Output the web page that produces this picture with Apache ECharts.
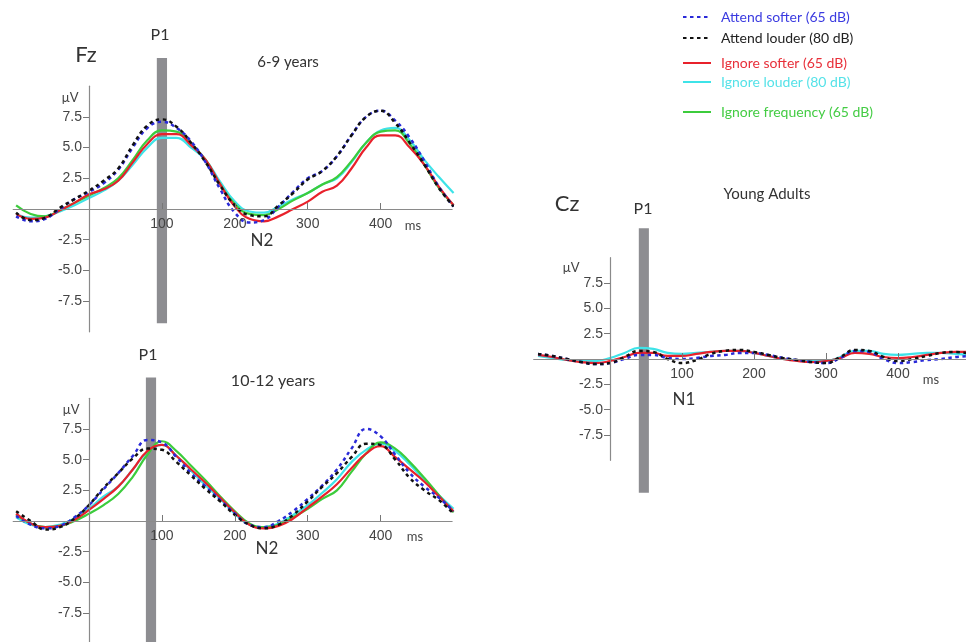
<!DOCTYPE html>
<html>
<head>
<meta charset="utf-8">
<script src="https://cdn.jsdelivr.net/npm/echarts@6/dist/echarts.min.js"></script>
<style>
  html,body{margin:0;padding:0;background:#fff;}
  #chart{width:966px;height:642px;}
</style>
</head>
<body>
<div id="chart"></div>
<script>
// sample times (ms)
var times = [-100,-80,-60,-40,-20,0,20,40,60,80,100,120,140,160,180,200,220,240,260,280,300,320,340,360,380,400,420,440,460,480,500];

// Fz, 6-9 years
var kidsAttSoft  = [-0.6,-1.0,-0.8,0.0,0.8,1.4,2.1,3.2,5.0,6.6,7.1,6.6,5.5,3.8,1.6,-0.3,-1.1,-0.9,0.2,1.4,2.5,3.1,4.3,6.0,7.5,8.0,7.2,5.8,3.9,1.8,0.2];
var kidsAttLoud  = [-0.3,-0.9,-0.7,0.1,0.8,1.5,2.3,3.3,5.2,6.8,7.3,6.7,5.4,3.8,1.9,0.3,-0.5,-0.6,0.3,1.3,2.4,3.1,4.3,6.0,7.5,8.0,7.0,5.4,3.6,1.7,0.2];
var kidsIgnSoft  = [-0.4,-0.8,-0.7,-0.1,0.5,1.2,1.6,2.3,3.8,5.3,6.1,6.1,5.2,4.0,2.0,0.2,-0.8,-1.0,-0.6,0.0,0.6,1.4,1.9,3.3,5.0,6.0,6.0,5.0,3.6,1.8,0.3];
var kidsIgnLoud  = [-0.4,-0.7,-0.6,-0.2,0.3,0.9,1.5,2.3,3.6,5.0,5.8,5.8,5.0,4.0,2.2,0.6,-0.2,-0.3,0.2,0.8,1.3,2.0,2.5,3.8,5.4,6.4,6.6,5.6,4.0,2.6,1.3];
var kidsIgnFreq  = [0.3,-0.4,-0.6,-0.1,0.5,1.1,1.7,2.5,4.0,5.6,6.4,6.3,5.3,4.0,2.0,0.4,-0.4,-0.5,0.0,0.7,1.3,2.0,2.6,3.9,5.4,6.3,6.4,5.3,3.6,1.7,0.3];

// Fz, 10-12 years
var preAttSoft = [0.4,-0.3,-0.6,-0.4,0.3,1.3,2.6,3.9,5.3,6.6,6.4,5.2,3.9,2.8,1.7,0.6,-0.3,-0.5,0.0,0.8,1.8,2.9,4.2,5.9,7.5,6.9,5.4,3.9,2.8,1.9,0.8];
var preAttLoud = [0.8,0.0,-0.7,-0.5,0.2,1.3,2.7,3.9,5.1,5.9,5.8,4.8,3.7,2.6,1.6,0.5,-0.3,-0.6,-0.3,0.5,1.6,2.8,3.9,5.2,6.3,6.2,5.0,3.5,2.5,1.7,0.6];
var preIgnSoft = [0.6,-0.2,-0.5,-0.4,0.1,0.9,1.8,2.8,4.2,5.7,6.2,5.3,4.2,3.1,1.9,0.7,-0.3,-0.6,-0.4,0.2,1.1,2.0,3.0,4.3,5.5,6.1,5.2,4.2,3.2,2.0,0.8];
var preIgnLoud = [0.3,-0.3,-0.5,-0.3,0.2,1.0,2.0,2.8,4.2,5.6,6.2,5.3,4.1,2.9,1.8,0.6,-0.3,-0.5,-0.2,0.5,1.3,2.3,3.4,4.8,5.8,6.3,5.7,4.6,3.3,2.1,1.0];
var preIgnFreq = [0.5,-0.2,-0.5,-0.4,0.0,0.6,1.3,2.2,3.6,5.4,6.5,5.7,4.5,3.3,2.0,0.8,-0.2,-0.5,-0.3,0.3,1.0,1.8,2.5,4.0,5.5,6.4,5.9,4.8,3.5,2.1,0.7];

// Cz, young adults
var adAttSoft = [0.5,0.3,0.0,-0.3,-0.5,-0.4,0.0,0.4,0.4,0.1,0.0,0.1,0.3,0.4,0.6,0.6,0.4,0.1,-0.1,-0.3,-0.4,0.1,0.8,0.7,0.0,-0.4,-0.3,-0.1,0.0,0.2,0.3];
var adAttLoud = [0.5,0.3,0.0,-0.3,-0.5,-0.4,0.2,0.8,0.7,0.0,-0.4,-0.1,0.5,0.8,0.9,0.7,0.4,0.1,-0.1,-0.3,-0.4,0.2,0.9,0.8,0.2,-0.2,0.0,0.3,0.6,0.7,0.5];
var adIgnSoft = [0.4,0.2,-0.1,-0.3,-0.4,-0.2,0.2,0.6,0.6,0.3,0.3,0.5,0.7,0.8,0.8,0.6,0.3,0.0,-0.2,-0.3,-0.2,0.1,0.6,0.5,0.2,0.1,0.2,0.4,0.6,0.7,0.7];
var adIgnLoud = [0.3,0.1,-0.1,-0.2,-0.2,0.1,0.6,1.1,1.0,0.6,0.5,0.6,0.7,0.8,0.8,0.6,0.3,0.0,-0.1,-0.2,-0.2,0.2,0.8,0.8,0.5,0.4,0.5,0.6,0.6,0.5,0.4];

// P1 bars: [from ms, to ms, top µV, bottom µV]
var kidsP1 = [[93, 107, 12.3, -9.3]];
var preP1 = [[78, 92, 11.7, -10.6]];
var adP1 = [[40, 54, 12.9, -13.2]];

var yTicks = [-7.5, -5, -2.5, 2.5, 5, 7.5];
var xTicks = [100, 200, 300, 400];
var yRange = [-10, 10];
var xRangeKids = [-104, 498];
var xRangeAdults = [-106, 495];

var names = ['Attend softer (65 dB)', 'Attend louder (80 dB)', 'Ignore softer (65 dB)', 'Ignore louder (80 dB)', 'Ignore frequency (65 dB)'];
var colors = ['#2a2ad8', '#111111', '#e8212b', '#3ee3e8', '#3ccc3c'];
var legendColors = ['#3b3be0', '#222222', '#e8303a', '#55e2e8', '#44cc44'];
var legendRows = [16, 37, 62, 81, 111];

var grids = [
    {left: 13.2, top: 86.2, width: 438.9, height: 245.6},
    {left: 13.2, top: 398.3, width: 438.9, height: 245.4},
    {left: 533.7, top: 257.7, width: 432.7, height: 202.6}
];

function pairs(vals) {
    var out = [];
    for (var i = 0; i < times.length; i++) out.push([times[i], vals[i]]);
    return out;
}

function lineSeries(k, vals, idx) {
    return {
        name: names[k], type: 'line', xAxisIndex: idx, yAxisIndex: idx,
        data: pairs(vals), smooth: 0.45, showSymbol: false, symbol: 'none',
        z: 3, silent: true, animation: false,
        itemStyle: {color: colors[k]},
        lineStyle: {color: colors[k], width: k < 2 ? 2.5 : 2.2, type: k < 2 ? [3.5, 3.5] : 'solid'}
    };
}

function barSeries(d, idx) {
    return {
        type: 'custom', xAxisIndex: idx, yAxisIndex: idx, clip: false, z: 1, silent: true,
        data: d, animation: false,
        renderItem: function (params, api) {
            var p0 = api.coord([api.value(0), api.value(2)]);
            var p1 = api.coord([api.value(1), api.value(3)]);
            return {type: 'rect', shape: {x: p0[0], y: p0[1], width: p1[0] - p0[0], height: p1[1] - p0[1]},
                    style: {fill: '#8d8d91'}};
        }
    };
}

var font = '"Liberation Sans Narrow", "Liberation Sans", sans-serif';
// x axis sits on µV = 0, y axis on 0 ms: shift them from the grid edge
function xAx(idx, range) {
    var g = grids[idx];
    return {
        type: 'value', gridIndex: idx, min: range[0], max: range[1], position: 'bottom', z: 5,
        offset: -g.height * (0 - yRange[0]) / (yRange[1] - yRange[0]),
        splitLine: {show: false},
        axisLine: {onZero: false, lineStyle: {color: '#8a8a8a', width: 1.2}},
        axisTick: {inside: true, length: 6, customValues: xTicks, lineStyle: {color: '#777'}},
        axisLabel: {customValues: xTicks, margin: 8, color: '#444', fontSize: 14, fontFamily: font}
    };
}
function yAx(idx, range) {
    var g = grids[idx];
    return {
        type: 'value', gridIndex: idx, min: yRange[0], max: yRange[1], position: 'left', z: 5,
        offset: -g.width * (0 - range[0]) / (range[1] - range[0]),
        splitLine: {show: false},
        axisLine: {onZero: false, lineStyle: {color: '#8a8a8a', width: 1.2}},
        axisTick: {length: 6, customValues: yTicks, lineStyle: {color: '#777'}},
        axisLabel: {customValues: yTicks, margin: 7, color: '#444', fontSize: 14, fontFamily: font,
            formatter: function (v) { return v.toFixed(1); }}
    };
}

function txt(s, x, y, size, align, color) {
    return {type: 'text', x: x, y: y, silent: true,
        style: {text: s, fontSize: size, fontFamily: 'Lato', fill: color || '#333', align: align || 'center', verticalAlign: 'middle'}};
}

var series = [];
series.push(barSeries(kidsP1, 0), barSeries(preP1, 1), barSeries(adP1, 2));
var kidsSets = [kidsAttSoft, kidsAttLoud, kidsIgnSoft, kidsIgnLoud, kidsIgnFreq];
var preSets = [preAttSoft, preAttLoud, preIgnSoft, preIgnLoud, preIgnFreq];
var adSets = [adAttSoft, adAttLoud, adIgnSoft, adIgnLoud];
var drawOrder = [3, 4, 2, 0, 1];
drawOrder.forEach(function (k) {
    series.push(lineSeries(k, kidsSets[k], 0));
    series.push(lineSeries(k, preSets[k], 1));
    if (adSets[k]) series.push(lineSeries(k, adSets[k], 2));
});

// one legend per row, the rows are not evenly spaced
var legends = names.map(function (n, i) {
    return {
        left: 677, top: legendRows[i] - 11, itemWidth: 28, itemHeight: 16,
        selectedMode: false,
        itemStyle: {opacity: 0, borderWidth: 0},
        textStyle: {fontFamily: 'Lato', fontSize: 14, color: legendColors[i], padding: [0, 0, 0, 5]},
        data: [n]
    };
});

var chart = echarts.init(document.getElementById('chart'), null, {renderer: 'canvas'});
chart.setOption({
    backgroundColor: '#fff',
    animation: false,
    grid: grids.map(function (g) {
        return {left: g.left, top: g.top, width: g.width, height: g.height, outerBoundsMode: 'none'};
    }),
    xAxis: [xAx(0, xRangeKids), xAx(1, xRangeKids), xAx(2, xRangeAdults)],
    yAxis: [yAx(0, xRangeKids), yAx(1, xRangeKids), yAx(2, xRangeAdults)],
    legend: legends,
    graphic: [
        txt('Fz', 86, 55, 22),
        txt('P1', 160, 35, 16),
        txt('6-9 years', 288, 62, 15),
        txt('µV', 70, 98, 13, 'center', '#444'),
        txt('N2', 262, 241, 17),
        txt('ms', 413, 226, 13, 'center', '#444'),
        txt('P1', 148, 355, 16),
        txt('10-12 years', 273, 381, 16),
        txt('µV', 71, 410, 13, 'center', '#444'),
        txt('N2', 267, 549, 17),
        txt('ms', 415, 537, 13, 'center', '#444'),
        txt('Cz', 567, 204, 22),
        txt('P1', 643, 209, 16),
        txt('Young Adults', 767, 194, 15),
        txt('µV', 571, 268, 13, 'center', '#444'),
        txt('N1', 684, 400, 17),
        txt('ms', 931, 380, 13, 'center', '#444')
    ],
    series: series
});
</script>
</body>
</html>
